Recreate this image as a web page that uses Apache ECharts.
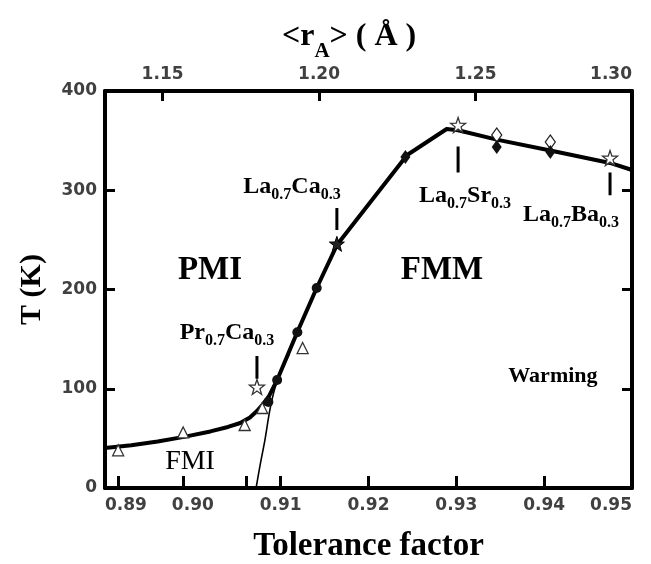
<!DOCTYPE html>
<html>
<head>
<meta charset="utf-8">
<script src="https://cdn.jsdelivr.net/npm/echarts@6/dist/echarts.min.js"></script>
<style>
html,body{margin:0;padding:0;background:#fff;}
#c{width:651px;height:564px;}
</style>
</head>
<body>
<div id="c"></div>
<script>
// ---- data (tolerance factor, T in K) ----
const thickCurve = [
  [0.8900, 40.3], [0.8930, 43.0], [0.8960, 46.8], [0.8990, 51.5], [0.9020, 57.0],
  [0.9040, 61.5], [0.9054, 65.5], [0.9065, 71.0], [0.9073, 77.5], [0.9080, 84.5],
  [0.9087, 93.0], [0.9096, 108.8], [0.9119, 157.2], [0.9141, 201.5], [0.9164, 244.8],
  [0.9244, 335.5], [0.9289, 361.7], [0.9302, 360.5], [0.9346, 351.0], [0.9407, 340.0],
  [0.9475, 327.5], [0.9500, 320.4]
];
const thinCurve = [
  [0.9072, 0], [0.9077, 25], [0.9082, 48], [0.9088, 80], [0.9095, 105], [0.9110, 135]
];
const openTriangles = [[0.8915, 38], [0.8989, 56], [0.9059, 63.5], [0.9079, 80.6], [0.9125, 141]];
const openStars = [[0.9073, 101.8], [0.9302, 365.7], [0.9475, 332.5]];
const darkStars = [[0.9164, 246]];
const filledCircles = [[0.9086, 86.7], [0.9096, 108.8], [0.9119, 157], [0.9141, 201.5]];
const filledDiamonds = [[0.9242, 333.5], [0.9346, 343.6], [0.9407, 338.5]];
const openDiamonds = [[0.9346, 355.7], [0.9407, 348.6]];

// marker sticks under compound labels: [t, Tlow, Thigh]
const sticks = [[0.9073, 110, 133], [0.9164, 260, 282], [0.9302, 318, 344], [0.9475, 295, 318]];

// region labels
const regionNames = ['PMI', 'FMM', 'FMI', 'Warming'];
const regionPos = [[0.90195, 219.6], [0.92837, 219.6], [0.89968, 26.2], [0.94100, 112.8]];
const regionStyle = ['big', 'big', 'fmi', 'warm'];

// compound labels: parts [A, subA, B, subB]
const compounds = [['Pr', '0.7', 'Ca', '0.3'], ['La', '0.7', 'Ca', '0.3'], ['La', '0.7', 'Sr', '0.3'], ['La', '0.7', 'Ba', '0.3']];
const compoundPos = [[0.90389, 156], [0.91129, 303], [0.93099, 294], [0.94305, 275]];

// axes
const tolLabels = [0.89, 0.90, 0.91, 0.92, 0.93, 0.94, 0.95];
const tolTicks = [0.8915, 0.8989, 0.9061, 0.91, 0.92, 0.93, 0.94];
const rLabels = [1.15, 1.20, 1.25, 1.30];
const rTicks = [1.15, 1.20, 1.25];
const rMin = 1.1316, rMax = 1.30;

const serif = '"Liberation Serif", "Times New Roman", serif';
const tickFont = { fontFamily: '"DejaVu Sans", sans-serif', fontWeight: 'bold', fontSize: 17, color: '#404040' };

const chart = echarts.init(document.getElementById('c'), null, { renderer: 'canvas' });

const noBorder = { textBorderWidth: 0, textBorderColor: 'transparent', textShadowBlur: 0 };
const richMain = {
  m: Object.assign({ fontFamily: serif, fontWeight: 'bold', fontSize: 24, lineHeight: 24, verticalAlign: 'top', color: '#000' }, noBorder),
  s: Object.assign({ fontFamily: serif, fontWeight: 'bold', fontSize: 16, lineHeight: 16, verticalAlign: 'top', padding: [12, 0, 0, 0], color: '#000' }, noBorder),
  big: Object.assign({ fontFamily: serif, fontWeight: 'bold', fontSize: 33, color: '#000' }, noBorder),
  fmi: Object.assign({ fontFamily: serif, fontWeight: 'normal', fontSize: 28, color: '#000' }, noBorder),
  warm: Object.assign({ fontFamily: serif, fontWeight: 'bold', fontSize: 22, color: '#000' }, noBorder)
};

const labelData = [];
regionNames.forEach((n, i) => labelData.push({ value: regionPos[i], txt: '{' + regionStyle[i] + '|' + n + '}' }));
compounds.forEach((c, i) => labelData.push({ value: compoundPos[i], txt: '{m|' + c[0] + '}{s|' + c[1] + '}{m|' + c[2] + '}{s|' + c[3] + '}' }));

const starPath = 'path://M0,-10 L2.35,-3.24 9.51,-3.09 3.8,1.24 5.88,8.09 0,4 -5.88,8.09 -3.8,1.24 -9.51,-3.09 -2.35,-3.24Z';

const series = [
  { type: 'line', data: thinCurve, smooth: 0.3, symbol: 'none',
    lineStyle: { color: '#000', width: 1.6 }, z: 2, silent: true },
  { type: 'line', data: thickCurve, smooth: false, symbol: 'none',
    lineStyle: { color: '#000', width: 4, join: 'round' }, z: 3, silent: true },
  { type: 'scatter', data: openTriangles, symbol: 'triangle', symbolSize: 11,
    itemStyle: { color: '#fff', borderColor: '#333', borderWidth: 1.3, opacity: 1 }, z: 4 },
  { type: 'scatter', data: openDiamonds, symbol: 'diamond', symbolSize: [10, 14],
    itemStyle: { color: '#fff', borderColor: '#222', borderWidth: 1.3, opacity: 1 }, z: 4 },
  { type: 'scatter', data: filledCircles, symbol: 'circle', symbolSize: 10,
    itemStyle: { color: '#111', opacity: 1 }, z: 5 },
  { type: 'scatter', data: filledDiamonds, symbol: 'diamond', symbolSize: [10, 14],
    itemStyle: { color: '#111', opacity: 1 }, z: 5 },
  { type: 'scatter', data: openStars, symbol: starPath, symbolSize: 15,
    itemStyle: { color: '#fff', borderColor: '#333', borderWidth: 1.3, opacity: 1 }, z: 6 },
  { type: 'scatter', data: darkStars, symbol: starPath, symbolSize: 15,
    itemStyle: { color: '#222', borderColor: '#000', borderWidth: 1, opacity: 1 }, z: 6 },
  { type: 'scatter', data: labelData.map(d => ({ value: d.value, txt: d.txt })), symbolSize: 0, z: 10, silent: true,
    itemStyle: { opacity: 1 },
    label: Object.assign({ show: true, position: [0, 0], align: 'center', verticalAlign: 'middle', color: '#000', opacity: 1,
      formatter: p => p.data.txt, rich: richMain }, noBorder) }
];
sticks.forEach(s => series.push({
  type: 'line', data: [[s[0], s[1]], [s[0], s[2]]], symbol: 'none',
  lineStyle: { color: '#000', width: 3 }, z: 7, silent: true
}));

const frameLine = { show: true, onZero: false, lineStyle: { color: '#000', width: 4 } };

chart.setOption({
  animation: false,
  backgroundColor: '#fff',
  grid: { left: 105, right: 19, top: 91, bottom: 76, containLabel: false, outerBoundsMode: 'none' },
  xAxis: [
    {
      type: 'value', position: 'bottom', min: 0.89, max: 0.95,
      axisLine: frameLine,
      axisTick: { show: true, inside: true, length: 12, lineStyle: { color: '#000', width: 3 }, customValues: tolTicks },
      axisLabel: Object.assign({ margin: 9, customValues: tolLabels, formatter: v => v.toFixed(2),
        alignMinLabel: 'left', alignMaxLabel: 'right' }, tickFont),
      splitLine: { show: false },
      name: 'Tolerance factor', nameLocation: 'middle', nameGap: 42,
      nameTextStyle: { fontFamily: serif, fontWeight: 'bold', fontSize: 33, color: '#000' }
    },
    {
      type: 'value', position: 'top', min: rMin, max: rMax,
      axisLine: frameLine,
      axisTick: { show: true, inside: true, length: 10, lineStyle: { color: '#000', width: 3 }, customValues: rTicks },
      axisLabel: Object.assign({ margin: 8, customValues: rLabels, formatter: v => v.toFixed(2),
        alignMaxLabel: 'right' }, tickFont),
      splitLine: { show: false }
    }
  ],
  yAxis: [
    {
      type: 'value', position: 'left', min: 0, max: 400, interval: 100,
      axisLine: frameLine,
      axisTick: { show: true, inside: true, length: 10, lineStyle: { color: '#000', width: 3 } },
      axisLabel: Object.assign({ margin: 8 }, tickFont),
      splitLine: { show: false },
      name: 'T (K)', nameLocation: 'middle', nameGap: 58,
      nameTextStyle: { fontFamily: serif, fontWeight: 'bold', fontSize: 30, color: '#000' }
    },
    {
      type: 'value', position: 'right', min: 0, max: 400, interval: 100,
      axisLine: frameLine,
      axisTick: { show: true, inside: true, length: 10, lineStyle: { color: '#000', width: 3 } },
      axisLabel: { show: false },
      splitLine: { show: false }
    }
  ],
  graphic: [
    {
      type: 'text', left: 282, top: 21, z: 20,
      style: {
        text: '{n|<r}{sub|A}{n|> ( Å )}',
        rich: {
          n: { fontFamily: serif, fontWeight: 'bold', fontSize: 32, lineHeight: 40, verticalAlign: 'top', fill: '#000' },
          sub: { fontFamily: serif, fontWeight: 'bold', fontSize: 21, lineHeight: 21, verticalAlign: 'top', padding: [20, 0, 0, 0], fill: '#000' }
        }
      }
    }
  ],
  series: series
});
</script>
</body>
</html>
